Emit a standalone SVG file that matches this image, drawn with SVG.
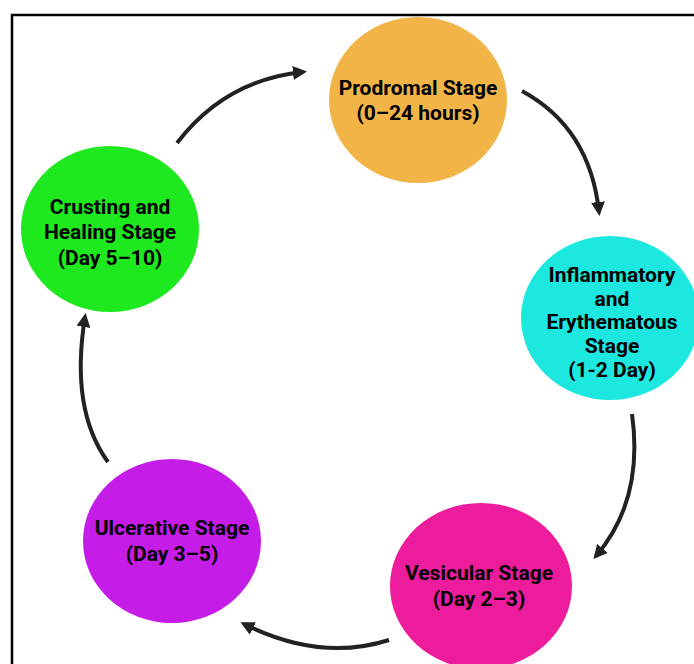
<svg xmlns="http://www.w3.org/2000/svg" width="694" height="664" viewBox="0 0 694 664">
<style>
.node text{font-family:Roboto,"Liberation Sans",sans-serif;font-weight:bold;font-size:21px;fill:#000;text-anchor:middle}
.conn path{fill:none;stroke:#222;stroke-width:4;marker-end:url(#ah)}
</style>
<defs>
<marker id="ah" markerUnits="userSpaceOnUse" viewBox="0 0 14 14" markerWidth="14" markerHeight="14" refX="10" refY="7" orient="auto">
<path d="M0,0 L14,7 L0,14 z" fill="#222"/>
</marker>
</defs>
<rect width="694" height="664" fill="#fff"/>
<rect x="12" y="15" width="700" height="700" fill="none" stroke="#000" stroke-width="2.5"/>
<g class="conn" id="connectors">
<path d="M177,143 Q225,80 303,72"/>
<path d="M522,91 Q590,128 599,212"/>
<path d="M632,414 Q644,500 596,556"/>
<path d="M389,640 Q320,662 244,624"/>
<path d="M108,462 Q70,410 85,317"/>
</g>
<g class="node" id="prodromal">
<ellipse cx="418" cy="100" rx="89" ry="83" fill="#F2B446"/>
<text x="418" y="95">Prodromal Stage</text>
<text x="418" y="120">(0–24 hours)</text>
</g>
<g class="node" id="inflammatory">
<ellipse cx="610" cy="318" rx="89" ry="82" fill="#1DE8E0"/>
<text x="612" y="282">Inflammatory</text>
<text x="612" y="306">and</text>
<text x="612" y="329">Erythematous</text>
<text x="612" y="353">Stage</text>
<text x="612" y="377">(1-2 Day)</text>
</g>
<g class="node" id="vesicular">
<ellipse cx="481" cy="586" rx="91" ry="83" fill="#EC1C9C"/>
<text x="479" y="580">Vesicular Stage</text>
<text x="479" y="606">(Day 2–3)</text>
</g>
<g class="node" id="ulcerative">
<ellipse cx="172" cy="541" rx="89" ry="82" fill="#C51CE8"/>
<text x="172" y="535">Ulcerative Stage</text>
<text x="172" y="561">(Day 3–5)</text>
</g>
<g class="node" id="crusting">
<ellipse cx="110" cy="229" rx="89" ry="83" fill="#1EE81E"/>
<text x="110" y="214">Crusting and</text>
<text x="110" y="239">Healing Stage</text>
<text x="110" y="265">(Day 5–10)</text>
</g>
</svg>
